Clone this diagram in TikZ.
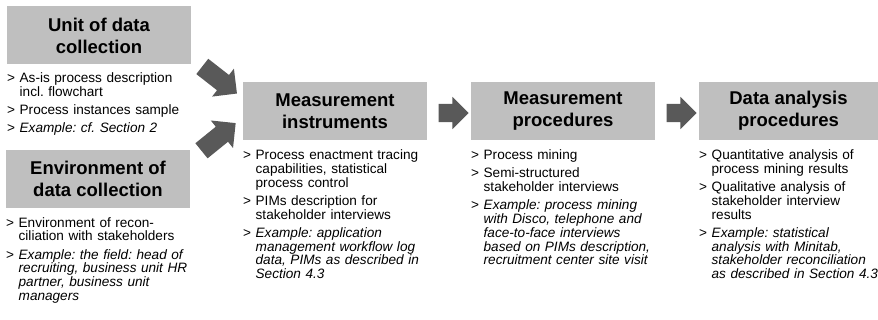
\documentclass[tikz,border=0pt]{standalone}
\usepackage{fontspec}
\setmainfont{Liberation Sans}
\usepackage{xcolor}
\definecolor{hdrgray}{RGB}{191,191,191}
\definecolor{arrgray}{RGB}{89,89,89}
\usetikzlibrary{shapes.arrows,calc,positioning}
\frenchspacing
% one list entry, continuation lines start after the bullet
\newcommand{\nl}{\newline\hphantom{>\ }}
\newcommand{\itm}[1]{>\ #1\par\vspace{4.3pt}}
\newcommand{\exitm}[1]{>\ \textit{#1}\par}

\begin{document}
\begin{tikzpicture}[x=1pt,y=-1pt,
  hdr/.style={fill=hdrgray,minimum width=184pt,minimum height=58pt,inner sep=0pt,
    align=center,font=\fontsize{18.5}{22}\selectfont\bfseries},
  lst/.style={anchor=north west,inner sep=0pt,text width=200pt,
    font=\fontsize{13.6}{13.8}\selectfont},
  flow/.style={single arrow,fill=arrgray,draw=none,minimum height=30pt,
    inner xsep=0pt,inner ysep=9pt,single arrow head extend=7pt},
  flowd/.style={flow,minimum height=44pt,inner ysep=9.5pt,single arrow head extend=8pt}
]
  \useasboundingbox (0,0) rectangle (878,320);
  % Inputs on the left
  \node[hdr] (unit) at (99,35.5) {Unit of data\\collection};
  \node[lst] (unitl) at (7,72.6) {%
    \itm{As-is process description\nl incl. flowchart}
    \itm{Process instances sample}
    \exitm{Example: cf. Section 2}};
  \node[hdr] (env) at (98,179) {Environment of\\data collection};
  \node[lst] (envl) at (6,217.1) {%
    \itm{Environment of recon-\nl ciliation with stakeholders}
    \exitm{Example: the field: head of\nl recruiting, business unit HR\nl
      partner, business unit\nl managers}};
  % Measurement instruments
  \node[hdr] (instr) at (335,111) {Measurement\\instruments};
  \node[lst] (instrl) at (243,149.6) {%
    \itm{Process enactment tracing\nl capabilities, statistical\nl process control}
    \itm{PIMs description for\nl stakeholder interviews}
    \exitm{Example: application\nl management workflow log\nl
      data, PIMs as described in\nl Section 4.3}};
  % Measurement procedures
  \node[hdr] (proc) at (563,111) {Measurement\\procedures};
  \node[lst] (procl) at (471,149.6) {%
    \itm{Process mining}
    \itm{Semi-structured\nl stakeholder interviews}
    \exitm{Example: process mining\nl with Disco, telephone and\nl
      face-to-face interviews\nl based on PIMs description,\nl
      recruitment center site visit}};
  % Data analysis procedures
  \node[hdr,minimum width=179pt] (anal) at (788.5,111) {Data analysis\\procedures};
  \node[lst] (anall) at (699,149.6) {%
    \itm{Quantitative analysis of\nl process mining results}
    \itm{Qualitative analysis of\nl stakeholder interview\nl results}
    \exitm{Example: statistical\nl analysis with Minitab,\nl
      stakeholder reconciliation\nl as described in Section 4.3}};
  % Block arrows
  \node[flowd,rotate=-38] (a1) at ($(instr.west)+(-27,-34)$) {};
  \node[flowd,rotate=39] (a2) at ($(instr.west)+(-28,29)$) {};
  \node[flow] (a3) at ($($(instr.east)!0.5!(proc.west)$)+(0,2)$) {};
  \node[flow] (a4) at ($($(proc.east)!0.5!(anal.west)$)+(0,2)$) {};
\end{tikzpicture}
\end{document}
